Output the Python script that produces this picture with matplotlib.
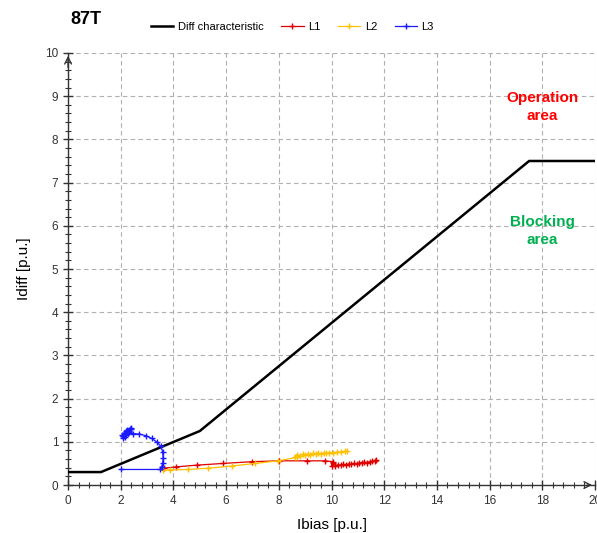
import matplotlib
matplotlib.use("Agg")
import matplotlib.pyplot as plt
from matplotlib.ticker import MultipleLocator

plt.rcParams['font.family'] = ['Liberation Sans', 'DejaVu Sans']

# differential protection characteristic
char_ibias = [0, 1.25, 5, 17.5, 20]
char_idiff = [0.3, 0.3, 1.25, 7.5, 7.5]

# phase L1 trajectory
l1_ibias = [3.64, 4.10, 4.88, 5.89, 6.97, 8.01, 9.06, 9.75, 10.06,
            10.00, 10.05, 10.15, 10.25, 10.35, 10.45, 10.55, 10.65, 10.75, 10.85,
            10.95, 11.05, 11.15, 11.25, 11.35, 11.45, 11.55, 11.65, 11.70]
l1_idiff = [0.39, 0.42, 0.46, 0.50, 0.54, 0.56, 0.56, 0.56, 0.54,
            0.44, 0.50, 0.45, 0.47, 0.46, 0.48, 0.47, 0.49, 0.48, 0.50,
            0.49, 0.51, 0.52, 0.53, 0.52, 0.54, 0.55, 0.56, 0.57]

# phase L2 trajectory
l2_ibias = [3.62, 3.87, 4.57, 5.33, 6.21, 7.10, 7.98, 8.68,
            8.60, 8.70, 8.80, 8.90, 9.00, 9.10, 9.20, 9.30, 9.40, 9.50,
            9.60, 9.70, 9.80, 9.90, 10.05, 10.20, 10.35, 10.50, 10.60]
l2_idiff = [0.34, 0.35, 0.36, 0.39, 0.44, 0.50, 0.56, 0.64,
            0.66, 0.70, 0.68, 0.71, 0.69, 0.72, 0.70, 0.73, 0.71, 0.74,
            0.72, 0.74, 0.73, 0.75, 0.75, 0.76, 0.77, 0.78, 0.78]

# phase L3 trajectory
l3_ibias = [2.00, 3.50, 3.55, 3.59, 3.61, 3.59, 3.52, 3.36, 3.17, 2.96, 2.71, 2.48, 2.29,
            2.20, 2.15, 2.10, 2.05, 2.12, 2.25, 2.35, 2.30, 2.18, 2.08, 2.22, 2.40,
            2.32, 2.14, 2.26, 2.38, 2.20, 2.10]
l3_idiff = [0.36, 0.36, 0.42, 0.50, 0.62, 0.77, 0.90, 1.00, 1.08, 1.14, 1.18, 1.19, 1.21,
            1.15, 1.12, 1.10, 1.15, 1.20, 1.25, 1.30, 1.22, 1.18, 1.13, 1.28, 1.33,
            1.26, 1.16, 1.20, 1.30, 1.24, 1.14]

fig = plt.figure(figsize=(5.97, 5.33), dpi=100)
ax = fig.add_axes([0.114, 0.090, 0.8826, 0.8106])

ax.plot(char_ibias, char_idiff, color="black", lw=1.8, label="Diff characteristic", zorder=3)
ax.plot(l1_ibias, l1_idiff, color="#e00000", lw=0.9, marker="+", ms=5, mew=1.0, label="L1", zorder=4)
ax.plot(l2_ibias, l2_idiff, color="#ffc000", lw=0.9, marker="+", ms=5, mew=1.0, label="L2", zorder=4)
ax.plot(l3_ibias, l3_idiff, color="#1a1aff", lw=0.9, marker="+", ms=5, mew=1.0, label="L3", zorder=4)

ax.set_xlim(0, 20)
ax.set_ylim(0, 10)
ax.xaxis.set_major_locator(MultipleLocator(2))
ax.xaxis.set_minor_locator(MultipleLocator(0.4))
ax.yaxis.set_major_locator(MultipleLocator(1))
ax.yaxis.set_minor_locator(MultipleLocator(0.2))
ax.tick_params(which="major", direction="inout", length=7, width=1, labelsize=8.5, colors="#333333")
ax.tick_params(which="minor", direction="inout", length=4, width=0.8, colors="#333333")
ax.grid(True, which="major", color="#b0b0b0", ls=(0, (4, 3)), lw=0.8)

for side in ["top", "right"]:
    ax.spines[side].set_visible(False)
for side in ["left", "bottom"]:
    ax.spines[side].set_color("#333333")
    ax.spines[side].set_linewidth(1.0)

# open arrow heads at axis ends
ax.annotate("", xy=(0, 10), xytext=(0, 9.6),
            arrowprops=dict(arrowstyle="->", color="#333333", lw=1, mutation_scale=12),
            annotation_clip=False)
ax.annotate("", xy=(20, 0), xytext=(19.6, 0),
            arrowprops=dict(arrowstyle="->", color="#333333", lw=1, mutation_scale=12),
            annotation_clip=False)

ax.set_xlabel("Ibias [p.u.]", fontsize=11, labelpad=8)
ax.set_ylabel("Idiff [p.u.]", fontsize=11, labelpad=10)

ax.text(18.0, 8.75, "Operation\narea", color="#ff0000", fontsize=11, fontweight="bold",
        ha="center", va="center", linespacing=1.3)
ax.text(18.0, 5.88, "Blocking\narea", color="#00b050", fontsize=11, fontweight="bold",
        ha="center", va="center", linespacing=1.3)

fig.text(0.118, 0.964, "87T", fontsize=13, fontweight="bold", ha="left", va="center")

fig.legend(loc="center", bbox_to_anchor=(0.49, 0.949), ncol=4, frameon=False,
           fontsize=8, handlelength=2.0, columnspacing=1.6, handletextpad=0.4)

fig.savefig("out.png", dpi=100)
